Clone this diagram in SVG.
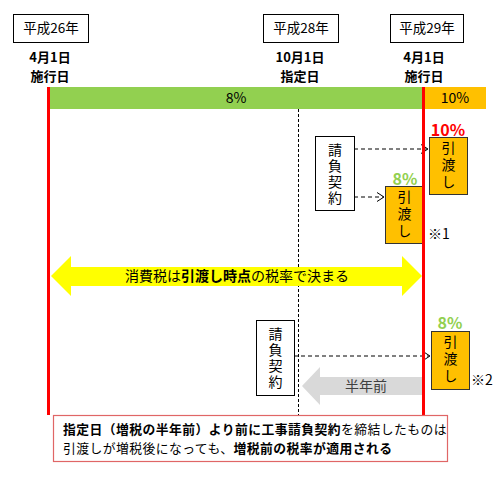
<svg xmlns="http://www.w3.org/2000/svg" width="500" height="480" viewBox="0 0 500 480">
<style>
text{font-family:"Noto Sans CJK JP","Liberation Sans",sans-serif;fill:#000;}
.yr{font-size:13.5px;text-anchor:middle;}
.dt{font-size:13px;font-weight:bold;text-anchor:middle;}
.box{fill:#fff;stroke:#000;stroke-width:1;}
.ob{fill:#ffc000;stroke:#333;stroke-width:1;}
.vt{font-size:14px;writing-mode:vertical-rl;letter-spacing:2px;}
.vt3{font-size:14px;writing-mode:vertical-rl;letter-spacing:3px;}
.dash{stroke:#000;stroke-width:1;stroke-dasharray:4,3;fill:none;}
.ah{stroke:#000;stroke-width:1;fill:none;}
.red{stroke:#ff0000;stroke-width:3;}
.b{font-weight:bold;}
.nt{font-size:12.8px;letter-spacing:0.45px;}
</style>
<rect width="500" height="480" fill="#fff"/>
<g id="year26"><rect class="box" x="13.5" y="14.5" width="75" height="28"/><text class="yr" x="51" y="33">平成26年</text></g>
<g id="year28"><rect class="box" x="263.5" y="14.5" width="75" height="28"/><text class="yr" x="301" y="33">平成28年</text></g>
<g id="year29"><rect class="box" x="390.5" y="14.5" width="73" height="28"/><text class="yr" x="427" y="33">平成29年</text></g>
<g id="date1"><text class="dt" x="50" y="62">4月1日</text><text class="dt" x="50" y="81">施行日</text></g>
<g id="date2"><text class="dt" x="300" y="62">10月1日</text><text class="dt" x="300" y="81">指定日</text></g>
<g id="date3"><text class="dt" x="424" y="62">4月1日</text><text class="dt" x="424" y="81">施行日</text></g>
<g id="bar8"><rect x="49" y="87" width="374" height="22" fill="#92d050"/><text x="236" y="103" font-size="14" text-anchor="middle">8%</text></g>
<g id="bar10"><rect x="424" y="87" width="62" height="22" fill="#ffc000"/><text x="455" y="103" font-size="14" text-anchor="middle">10%</text></g>
<g id="connectors">
<line x1="298.5" y1="109" x2="298.5" y2="415" stroke="#000" stroke-width="1" stroke-dasharray="3,2"/>
<line class="dash" x1="354" y1="149" x2="427" y2="149"/><polyline class="ah" points="421,144.5 428,149 421,153.5"/>
<line class="dash" x1="354" y1="197" x2="383" y2="197"/><polyline class="ah" points="377,192.5 384,197 377,201.5"/>
<line class="dash" x1="294" y1="356" x2="429" y2="356"/><polyline class="ah" points="423,351.5 430,356 423,360.5"/>
</g>
<g id="yellowArrow"><polygon points="51,276 71,256 71,267 402,267 402,256 422,276 402,296 402,286 71,286 71,296" fill="#ffff00"/>
<text x="237" y="281" font-size="14" text-anchor="middle">消費税は<tspan class="b">引渡し時点</tspan>の税率で決まる</text></g>
<g id="grayArrow"><polygon points="302,386 320,367 320,377 423,377 423,395 320,395 320,405" fill="#d9d9d9"/>
<text x="366" y="391" font-size="14" text-anchor="middle" style="fill:#404040">半年前</text></g>
<g id="contract1"><rect class="box" x="315.5" y="136.5" width="39" height="74"/>
<text class="vt" x="335" y="143">請負契約</text></g>
<g id="contract2"><rect class="box" x="256.5" y="320.5" width="38" height="75"/>
<text class="vt" x="275.5" y="327">請負契約</text></g>
<g id="delivery10"><rect class="ob" x="429.5" y="137.5" width="38" height="57"/>
<text class="vt3" x="448.5" y="141">引渡し</text>
<text x="448" y="136" font-size="16" font-weight="bold" text-anchor="middle" style="fill:#ff0000">10%</text></g>
<g id="delivery8a"><rect class="ob" x="385.5" y="186.5" width="38" height="57"/>
<text class="vt3" x="404.5" y="190">引渡し</text>
<text x="405" y="185" font-size="16" font-weight="bold" text-anchor="middle" style="fill:#92d050">8%</text>
<text x="428" y="239" font-size="14">※1</text></g>
<g id="delivery8b"><rect class="ob" x="431.5" y="331.5" width="38" height="58"/>
<text class="vt3" x="450.5" y="335">引渡し</text>
<text x="450" y="329" font-size="16" font-weight="bold" text-anchor="middle" style="fill:#92d050">8%</text>
<text x="471" y="385" font-size="14">※2</text></g>
<g id="redLines"><line class="red" x1="48.5" y1="87" x2="48.5" y2="415"/><line class="red" x1="423.5" y1="87" x2="423.5" y2="415"/></g>
<g id="note"><rect x="53.5" y="415.5" width="394" height="46" fill="#fff" stroke="#e06666" stroke-width="1.2"/>
<text class="nt" x="63" y="434"><tspan class="b">指定日（増税の半年前）より前に工事請負契約</tspan>を締結したものは</text>
<text class="nt" x="63" y="453">引渡しが増税後になっても、<tspan class="b">増税前の税率が適用される</tspan></text></g>
</svg>
